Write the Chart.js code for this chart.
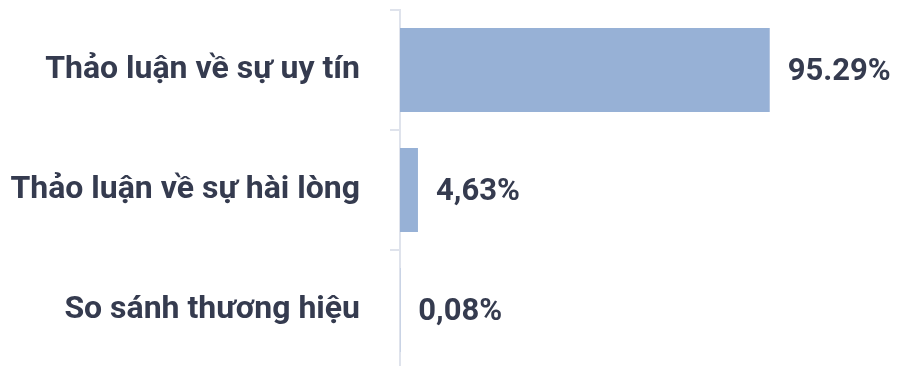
<!DOCTYPE html>
<html>
<head>
<meta charset="utf-8">
<script src="https://cdn.jsdelivr.net/npm/chart.js@4/dist/chart.umd.min.js"></script>
<style>
  html, body { margin: 0; padding: 0; background: #fff; overflow: hidden; }
  canvas { display: block; }
</style>
</head>
<body>
<canvas id="myChart" width="897" height="370"></canvas>
<script>
var categories = ['Thảo luận về sự uy tín', 'Thảo luận về sự hài lòng', 'So sánh thương hiệu'];
var shares = [95.29, 4.63, 0.08];
var shareLabels = ['95.29%', '4,63%', '0,08%'];

var textColor = '#353b4f';
var barColor = '#97b1d6';
var axisColor = '#dfe3ec';

// value text drawn just past the end of each bar
var valueLabels = {
    id: 'valueLabels',
    afterDatasetsDraw: function(chart) {
        var ctx = chart.ctx;
        var meta = chart.getDatasetMeta(0);
        ctx.save();
        ctx.font = 'bold 31px Roboto';
        ctx.fillStyle = textColor;
        ctx.textAlign = 'left';
        ctx.textBaseline = 'middle';
        meta.data.forEach(function(bar, i) {
            ctx.fillText(shareLabels[i], bar.x + 18, bar.y + 2);
        });
        ctx.restore();
    }
};

var ctx = document.getElementById('myChart').getContext('2d');
var chart = new Chart(ctx, {
    type: 'bar',
    data: {
        labels: categories,
        datasets: [{
            data: shares,
            backgroundColor: barColor,
            borderWidth: 0,
            barPercentage: 0.7,
            categoryPercentage: 1
        }]
    },
    options: {
        indexAxis: 'y',
        responsive: false,
        animation: false,
        layout: { padding: { top: 10, right: 109, bottom: 0, left: 0 } },
        plugins: {
            legend: { display: false },
            tooltip: { enabled: false }
        },
        scales: {
            x: {
                display: false,
                min: 0,
                max: 100
            },
            y: {
                // fixed axis width, and no extra vertical room for the labels
                afterFit: function(scale) {
                    scale.width = 400;
                    scale.paddingTop = 0;
                    scale.paddingBottom = 0;
                },
                grid: {
                    offset: true,
                    drawOnChartArea: false,
                    tickLength: 10,
                    color: axisColor,
                    lineWidth: 2
                },
                border: { color: axisColor, width: 2 },
                ticks: {
                    padding: 30,
                    color: textColor,
                    font: { family: 'Roboto', size: 32, weight: 'bold' }
                }
            }
        }
    },
    plugins: [valueLabels]
});
</script>
</body>
</html>
